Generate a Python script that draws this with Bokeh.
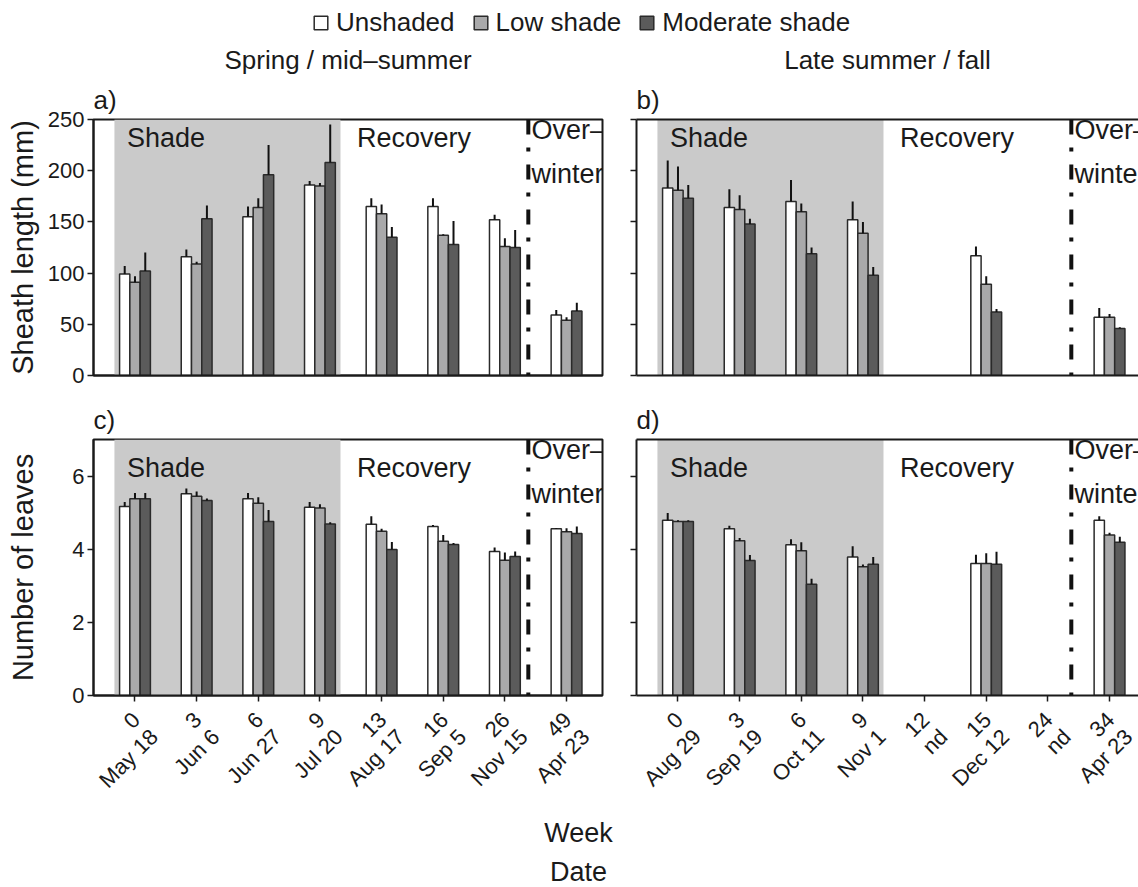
import math
from bokeh.plotting import figure
from bokeh.models import (Range1d, Span, BoxAnnotation, Legend, LegendItem,
                          LinearAxis, FixedTicker, Title)
from bokeh.layouts import column, row
from bokeh.embed import file_html
from bokeh.resources import INLINE
from bokeh.core.properties import value

FONT = "Liberation Sans"
INK = "#1a1a1a"
nan = float("nan")

# ---------------- data ----------------
treatments = ["Unshaded", "Low shade", "Moderate shade"]
bar_colors = ["#ffffff", "#a9a9aa", "#5b5b5b"]

spring_weeks = ["0", "3", "6", "9", "13", "16", "26", "49"]
spring_dates = ["May 18", "Jun 6", "Jun 27", "Jul 20", "Aug 17", "Sep 5", "Nov 15", "Apr 23"]
late_weeks = ["0", "3", "6", "9", "12", "15", "24", "34"]
late_dates = ["Aug 29", "Sep 19", "Oct 11", "Nov 1", "nd", "Dec 12", "nd", "Apr 23"]

# a) Sheath length (mm), spring / mid-summer : mean and mean + SE
sheath_spring_unshaded = [99, 116, 155, 186, 165, 165, 152, 59]
sheath_spring_unshaded_se = [107, 123, 165, 190, 173, 173, 157, 64]
sheath_spring_low = [91, 109, 164, 185, 158, 137, 126, 54]
sheath_spring_low_se = [97, 111, 173, 188, 167, 138, 134, 57]
sheath_spring_moderate = [102, 153, 196, 208, 135, 128, 125, 63]
sheath_spring_moderate_se = [120, 166, 225, 245, 145, 151, 142, 71]

# b) Sheath length (mm), late summer / fall
sheath_late_unshaded = [183, 164, 170, 152, nan, 117, nan, 57]
sheath_late_unshaded_se = [210, 182, 191, 170, nan, 126, nan, 66]
sheath_late_low = [181, 162, 160, 139, nan, 89, nan, 57]
sheath_late_low_se = [204, 176, 168, 150, nan, 97, nan, 60]
sheath_late_moderate = [173, 148, 119, 98, nan, 62, nan, 46]
sheath_late_moderate_se = [186, 153, 125, 106, nan, 65, nan, 47]

# c) Number of leaves, spring / mid-summer
leaves_spring_unshaded = [5.17, 5.52, 5.38, 5.15, 4.68, 4.62, 3.94, 4.56]
leaves_spring_unshaded_se = [5.29, 5.66, 5.54, 5.29, 4.90, 4.66, 4.05, 4.58]
leaves_spring_low = [5.38, 5.45, 5.26, 5.13, 4.49, 4.22, 3.70, 4.48]
leaves_spring_low_se = [5.54, 5.58, 5.42, 5.23, 4.56, 4.39, 3.91, 4.57]
leaves_spring_moderate = [5.38, 5.33, 4.76, 4.69, 3.99, 4.13, 3.80, 4.43]
leaves_spring_moderate_se = [5.54, 5.39, 5.07, 4.74, 4.20, 4.17, 3.94, 4.62]

# d) Number of leaves, late summer / fall
leaves_late_unshaded = [4.79, 4.56, 4.12, 3.79, nan, 3.61, nan, 4.79]
leaves_late_unshaded_se = [4.99, 4.64, 4.27, 4.08, nan, 3.85, nan, 4.90]
leaves_late_low = [4.76, 4.23, 3.96, 3.52, nan, 3.61, nan, 4.39]
leaves_late_low_se = [4.79, 4.31, 4.19, 3.58, nan, 3.89, nan, 4.45]
leaves_late_moderate = [4.76, 3.69, 3.04, 3.59, nan, 3.59, nan, 4.19]
leaves_late_moderate_se = [4.79, 3.84, 3.19, 3.79, nan, 3.93, nan, 4.34]

sheath_ticks = [0, 50, 100, 150, 200, 250]
leaves_ticks = [0, 2, 4, 6]

# ---------------- layout constants ----------------
BAR_W = 1 / 6
OFFS = [-BAR_W, 0.0, BAR_W]
X0 = -0.673
PX = 61.65                      # pixels per week-slot
SHADE_L, SHADE_R = -1 / 3, 10 / 3
OVERWINTER_X = 6.38
FRAME_H = 256
TEXT_SIZE = "27px"
TICK_SIZE = "22px"
HDR_H = 40
STRIP_H = 180
LEFT_A, RIGHT_A, LEFT_B = 93, 22, 12
W_A, W_B = 509, 502


def make_panel(means, ses, ymax, yticks, frame_w, mbl, mbr, mbt, mbb,
               left_labels, full_box, xticks, text_dy, tag, col_title, title_offset,
               ytitle=None, ytitle_standoff=6):
    x_end = X0 + frame_w / PX
    p = figure(frame_width=frame_w, frame_height=FRAME_H,
               x_range=Range1d(X0, x_end), y_range=Range1d(0, ymax),
               toolbar_location=None, output_backend="svg",
               min_border_left=mbl, min_border_right=mbr,
               min_border_top=mbt, min_border_bottom=mbb,
               background_fill_color="white", border_fill_color="white")
    p.grid.visible = False

    ya = p.yaxis[0]
    ya.ticker = FixedTicker(ticks=yticks)
    ya.major_tick_out = 6
    ya.major_tick_in = 0
    ya.minor_tick_out = 0
    ya.minor_tick_in = 0
    ya.axis_line_width = 2
    ya.axis_line_color = INK
    ya.major_tick_line_width = 1.5
    ya.major_tick_line_color = INK
    ya.major_label_text_font = FONT
    ya.major_label_text_font_size = TICK_SIZE
    ya.major_label_text_color = INK
    if left_labels:
        ya.major_label_standoff = 3
    else:
        ya.major_label_overrides = {t: "" for t in yticks}
        ya.major_label_text_font_size = "1px"
        ya.major_label_standoff = 0
    if ytitle:
        ya.axis_label = ytitle
        ya.axis_label_text_font = FONT
        ya.axis_label_text_font_size = "29px"
        ya.axis_label_text_font_style = "normal"
        ya.axis_label_text_color = INK
        ya.axis_label_standoff = ytitle_standoff

    xa = p.xaxis[0]
    xa.ticker = FixedTicker(ticks=list(range(8)))
    xa.major_tick_out = 6 if xticks else 0
    xa.major_tick_in = 0
    xa.minor_tick_out = 0
    xa.minor_tick_in = 0
    xa.axis_line_width = 2
    xa.axis_line_color = INK
    xa.major_tick_line_width = 1.5
    xa.major_tick_line_color = INK
    xa.major_label_overrides = {i: "" for i in range(8)}
    xa.major_label_text_font_size = "1px"
    xa.major_label_standoff = 0

    if full_box:
        p.outline_line_color = INK
        p.outline_line_width = 2
    else:
        # panel is cropped at the right edge: draw only left, bottom and top borders
        p.outline_line_color = None
        top = LinearAxis(ticker=FixedTicker(ticks=[]), axis_line_width=2,
                         axis_line_color=INK, major_tick_out=0, minor_tick_out=0,
                         major_label_standoff=0, major_label_text_font_size="1px")
        p.add_layout(top, "above")

    p.add_layout(BoxAnnotation(left=SHADE_L, right=SHADE_R, fill_color="#cacaca",
                               fill_alpha=1.0, line_color=None, level="underlay"))

    xs = list(range(8))
    for k in range(3):
        bx = [x + OFFS[k] for x in xs]
        p.vbar(x=bx, top=means[k], bottom=0, width=BAR_W,
               fill_color=bar_colors[k], line_color="#2a2a2a", line_width=1.5)
        p.segment(x0=bx, y0=means[k], x1=bx, y1=ses[k],
                  line_color="#111111", line_width=2)

    p.add_layout(Span(location=OVERWINTER_X, dimension="height", line_color="#111111",
                      line_width=4, line_dash="15 13 4 13"))

    p.text(x=[-0.13, 3.6], y=[ymax, ymax], y_offset=text_dy, text=["Shade", "Recovery"],
           text_font=value(FONT), text_font_size=TEXT_SIZE, text_color=INK,
           text_baseline="top", text_align="left")
    p.text(x=[OVERWINTER_X + 0.05], y=[ymax], y_offset=-5, text=["Over\u2013\nwinter"],
           text_font=value(FONT), text_font_size=TEXT_SIZE, text_color=INK,
           text_baseline="top", text_align="left", text_line_height=1.47)

    p.add_layout(Title(text=tag, align="left", text_font=FONT, text_font_size="26px",
                       text_font_style="normal", text_color=INK, standoff=10), "above")
    if col_title:
        p.add_layout(Title(text=col_title, align="center", offset=title_offset,
                           text_font=FONT, text_font_size="26px",
                           text_font_style="normal", text_color=INK, standoff=5), "above")
    return p


def make_strip(width, frame_left, weeks, dates, axis_titles=None):
    """Rotated two-line tick labels (week above date) under a bottom panel."""
    s = figure(width=width, height=STRIP_H,
               x_range=Range1d(X0 - frame_left / PX, X0 + (width - frame_left) / PX),
               y_range=Range1d(-STRIP_H, 0), toolbar_location=None,
               output_backend="svg", min_border=0, outline_line_color=None,
               background_fill_color="white", border_fill_color="white")
    s.axis.visible = False
    s.grid.visible = False
    xs = list(range(8))
    s.text(x=xs, y=[-10.5] * 8, text=weeks, angle=math.pi / 4, x_offset=1,
           text_align="right", text_baseline="middle", text_font=value(FONT),
           text_font_size=TICK_SIZE, text_color=INK)
    s.text(x=xs, y=[-27.5] * 8, text=dates, angle=math.pi / 4, x_offset=19,
           text_align="right", text_baseline="middle", text_font=value(FONT),
           text_font_size=TICK_SIZE, text_color=INK)
    if axis_titles:
        cx = X0 - frame_left / PX + 578 / PX
        s.text(x=[cx, cx], y=[-112.5, -151.5], text=axis_titles, text_align="center",
               text_baseline="top", text_font=value(FONT),
               text_font_size="27px", text_color=INK)
    return s


# ---------------- header with legend ----------------
TOTAL_W = LEFT_A + W_A + RIGHT_A + LEFT_B + W_B
hdr = figure(width=TOTAL_W, height=HDR_H, x_range=Range1d(0, TOTAL_W),
             y_range=Range1d(0, HDR_H), toolbar_location=None, output_backend="svg",
             min_border=0, outline_line_color=None)
hdr.axis.visible = False
hdr.grid.visible = False
items = []
for name, col in zip(treatments, bar_colors):
    # zero-size placeholder hidden under the legend box; only its style feeds the swatch
    r = hdr.vbar(x=[584], top=[20], bottom=[20], width=0, fill_color=col,
                 line_color="#2a2a2a", line_width=1.5)
    items.append(LegendItem(label=name, renderers=[r]))
leg = Legend(items=items, orientation="horizontal", location=(312, 2),
             label_text_font=FONT, label_text_font_size="26px",
             label_text_color=INK, glyph_width=17, glyph_height=17,
             spacing=17, label_standoff=7, padding=0, margin=0,
             border_line_color=None, background_fill_color="white",
             background_fill_alpha=1.0)
hdr.add_layout(leg, "center")

# ---------------- panels ----------------
pa = make_panel([sheath_spring_unshaded, sheath_spring_low, sheath_spring_moderate],
                [sheath_spring_unshaded_se, sheath_spring_low_se, sheath_spring_moderate_se],
                250, sheath_ticks, W_A, LEFT_A, RIGHT_A, 78, 12, True, True, False, 3.5,
                "a)", "Spring / mid\u2013summer", -3, "Sheath length (mm)", 6)
pb = make_panel([sheath_late_unshaded, sheath_late_low, sheath_late_moderate],
                [sheath_late_unshaded_se, sheath_late_low_se, sheath_late_moderate_se],
                250, sheath_ticks, W_B, LEFT_B, 0, 78, 12, False, False, False, 3.5,
                "b)", "Late summer / fall", (W_A - W_B) / 2 - 3)
pc = make_panel([leaves_spring_unshaded, leaves_spring_low, leaves_spring_moderate],
                [leaves_spring_unshaded_se, leaves_spring_low_se, leaves_spring_moderate_se],
                7, leaves_ticks, W_A, LEFT_A, RIGHT_A, 52, 10, True, True, True, 13.5,
                "c)", None, 0, "Number of leaves", 30)
pd_ = make_panel([leaves_late_unshaded, leaves_late_low, leaves_late_moderate],
                 [leaves_late_unshaded_se, leaves_late_low_se, leaves_late_moderate_se],
                 7, leaves_ticks, W_B, LEFT_B, 0, 52, 10, False, False, True, 13.5,
                 "d)", None, 0)

sc = make_strip(LEFT_A + W_A + RIGHT_A, LEFT_A, spring_weeks, spring_dates, ["Week", "Date"])
sd = make_strip(LEFT_B + W_B, LEFT_B, late_weeks, late_dates)

layout = column(hdr, row(pa, pb, spacing=0), row(pc, pd_, spacing=0),
                row(sc, sd, spacing=0), spacing=0)

with open("out.html", "w") as f:
    f.write(file_html(layout, INLINE))
